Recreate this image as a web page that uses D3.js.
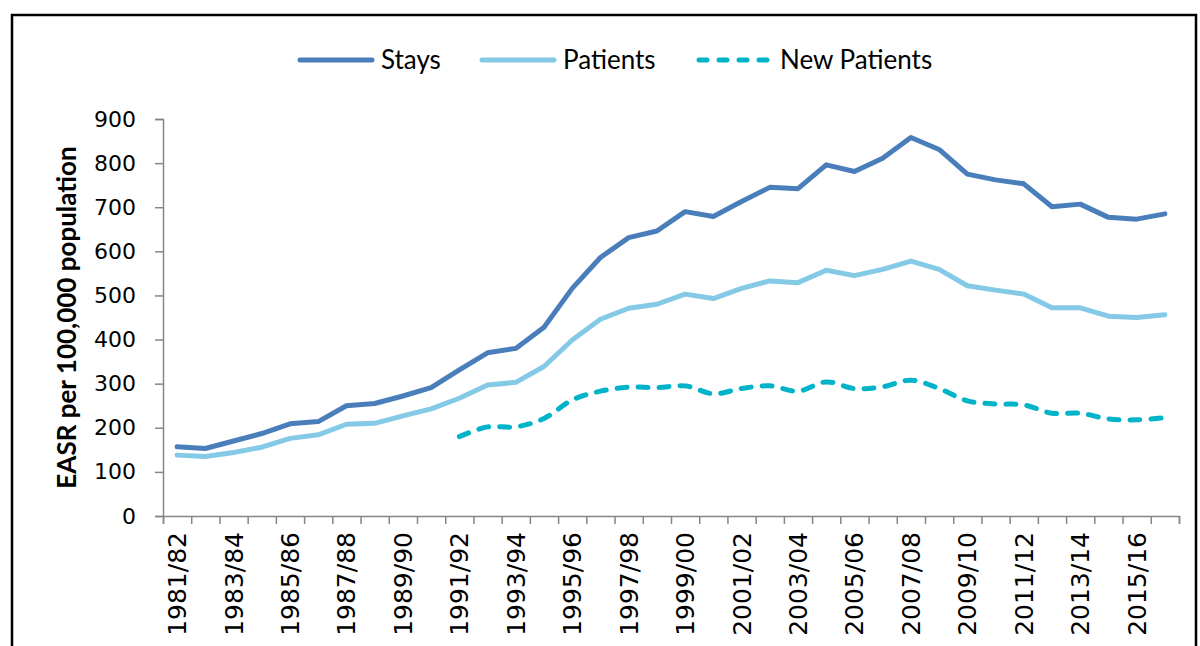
<!DOCTYPE html>
<html>
<head>
<meta charset="utf-8">
<script src="https://cdn.jsdelivr.net/npm/d3@7"></script>
<style>
  body { margin: 0; background: #fff; }
  svg { display: block; }
</style>
</head>
<body>
<svg id="chart"></svg>
<script>
var width = 1200, height = 646;

// categories (financial years)
var years = ["1981/82","1982/83","1983/84","1984/85","1985/86","1986/87","1987/88","1988/89",
  "1989/90","1990/91","1991/92","1992/93","1993/94","1994/95","1995/96","1996/97","1997/98",
  "1998/99","1999/00","2000/01","2001/02","2002/03","2003/04","2004/05","2005/06","2006/07",
  "2007/08","2008/09","2009/10","2010/11","2011/12","2012/13","2013/14","2014/15","2015/16","2016/17"];

// EASR per 100,000 population
var stays = [157,153,170,187,209,214,250,255,272,291,331,370,380,428,516,586,631,646,690,679,
  713,745,742,796,781,811,858,831,775,762,753,701,707,677,673,685];
var patients = [138,135,144,156,176,184,208,210,227,243,267,297,303,339,399,446,471,480,503,493,
  516,533,529,557,545,559,578,559,522,512,503,472,472,453,450,456];
var newPatients = [null,null,null,null,null,null,null,null,null,null,
  180,202,202,221,263,283,292,291,295,277,289,295,283,304,289,293,308,289,261,254,252,233,233,220,218,223];

var yTicks = [0,100,200,300,400,500,600,700,800,900];
var xLabels = years.filter(function(d, i){ return i % 2 == 0; });

var series = [
  {name: "Stays", values: stays, color: "#4a7ebb", dash: null, smooth: false},
  {name: "Patients", values: patients, color: "#84c9e6", dash: null, smooth: false},
  {name: "New Patients", values: newPatients, color: "#00b3c9", dash: "10,11", smooth: true}
];

var svg = d3.select("#chart")
    .attr("width", width)
    .attr("height", height);

// outer frame
svg.append("rect")
    .attr("x", 12).attr("y", 15)
    .attr("width", 1184).attr("height", 700)
    .attr("fill", "none")
    .attr("stroke", "#000")
    .attr("stroke-width", 2.5);

var plotLeft = 163, plotRight = 1179, plotTop = 119, plotBottom = 516;

var x = d3.scaleBand().domain(years).range([plotLeft, plotRight]);
var xEdge = d3.scaleLinear().domain([0, years.length]).range([plotLeft, plotRight]);
var y = d3.scaleLinear().domain([0, 900]).range([plotBottom, plotTop]);

var axisColor = "#868686";

// y axis
var yAxis = svg.append("g")
    .attr("transform", "translate(" + plotLeft + ",0)")
    .call(d3.axisLeft(y).tickValues(yTicks).tickSize(8).tickPadding(19));
yAxis.select(".domain").attr("stroke", axisColor).attr("stroke-width", 1.5);
yAxis.selectAll(".tick line").attr("stroke", axisColor).attr("stroke-width", 1.5);
yAxis.selectAll(".tick text")
    .attr("fill", "#000")
    .style("font-family", "DejaVu Sans")
    .style("font-size", "22px");

// x axis: ticks between categories
var xAxis = svg.append("g")
    .attr("transform", "translate(0," + plotBottom + ")")
    .call(d3.axisBottom(xEdge).tickValues(d3.range(0, years.length + 1)).tickSize(8).tickFormat(""));
xAxis.select(".domain").attr("stroke", axisColor).attr("stroke-width", 1.5);
xAxis.selectAll(".tick line").attr("stroke", axisColor).attr("stroke-width", 1.5);

// x labels, rotated
svg.append("g").selectAll("text")
    .data(xLabels)
    .enter()
    .append("text")
      .attr("transform", function(d){
        return "translate(" + (x(d) + x.bandwidth() / 2) + "," + (plotBottom + 16) + ") rotate(-90)";
      })
      .attr("dy", "0.36em")
      .attr("text-anchor", "end")
      .style("font-family", "DejaVu Sans")
      .style("font-size", "25px")
      .attr("fill", "#000")
      .text(function(d){ return d; });

// y axis title
svg.append("text")
    .attr("transform", "translate(76," + ((plotTop + plotBottom) / 2) + ") rotate(-90)")
    .attr("text-anchor", "middle")
    .style("font-family", "Lato")
    .style("font-weight", "bold")
    .style("font-size", "26px")
    .attr("fill", "#000")
    .text("EASR per 100,000 population");

// lines
series.forEach(function(s){
  var line = d3.line()
      .defined(function(d){ return d != null; })
      .x(function(d, i){ return x(years[i]) + x.bandwidth() / 2; })
      .y(function(d){ return y(d); })
      .curve(s.smooth ? d3.curveCatmullRom.alpha(0.5) : d3.curveLinear);

  svg.append("path")
      .datum(s.values)
      .attr("fill", "none")
      .attr("stroke", s.color)
      .attr("stroke-width", 5)
      .attr("stroke-linejoin", "round")
      .attr("stroke-linecap", "round")
      .attr("stroke-dasharray", s.dash)
      .attr("d", line);
});

// legend
var legendX = [300, 482, 699];
var legend = svg.append("g").selectAll("g")
    .data(series)
    .enter()
    .append("g")
      .attr("transform", function(d, i){ return "translate(" + legendX[i] + ",60)"; });

legend.append("line")
    .attr("x1", 0).attr("x2", 72)
    .attr("y1", 0).attr("y2", 0)
    .attr("stroke", function(d){ return d.color; })
    .attr("stroke-width", 5)
    .attr("stroke-linecap", "round")
    .attr("stroke-dasharray", function(d){ return d.dash ? "8,12" : null; });

legend.append("text")
    .attr("x", 81)
    .attr("dy", "0.35em")
    .style("font-family", "Lato")
    .style("font-size", "26px")
    .attr("fill", "#000")
    .text(function(d){ return d.name; });
</script>
</body>
</html>
